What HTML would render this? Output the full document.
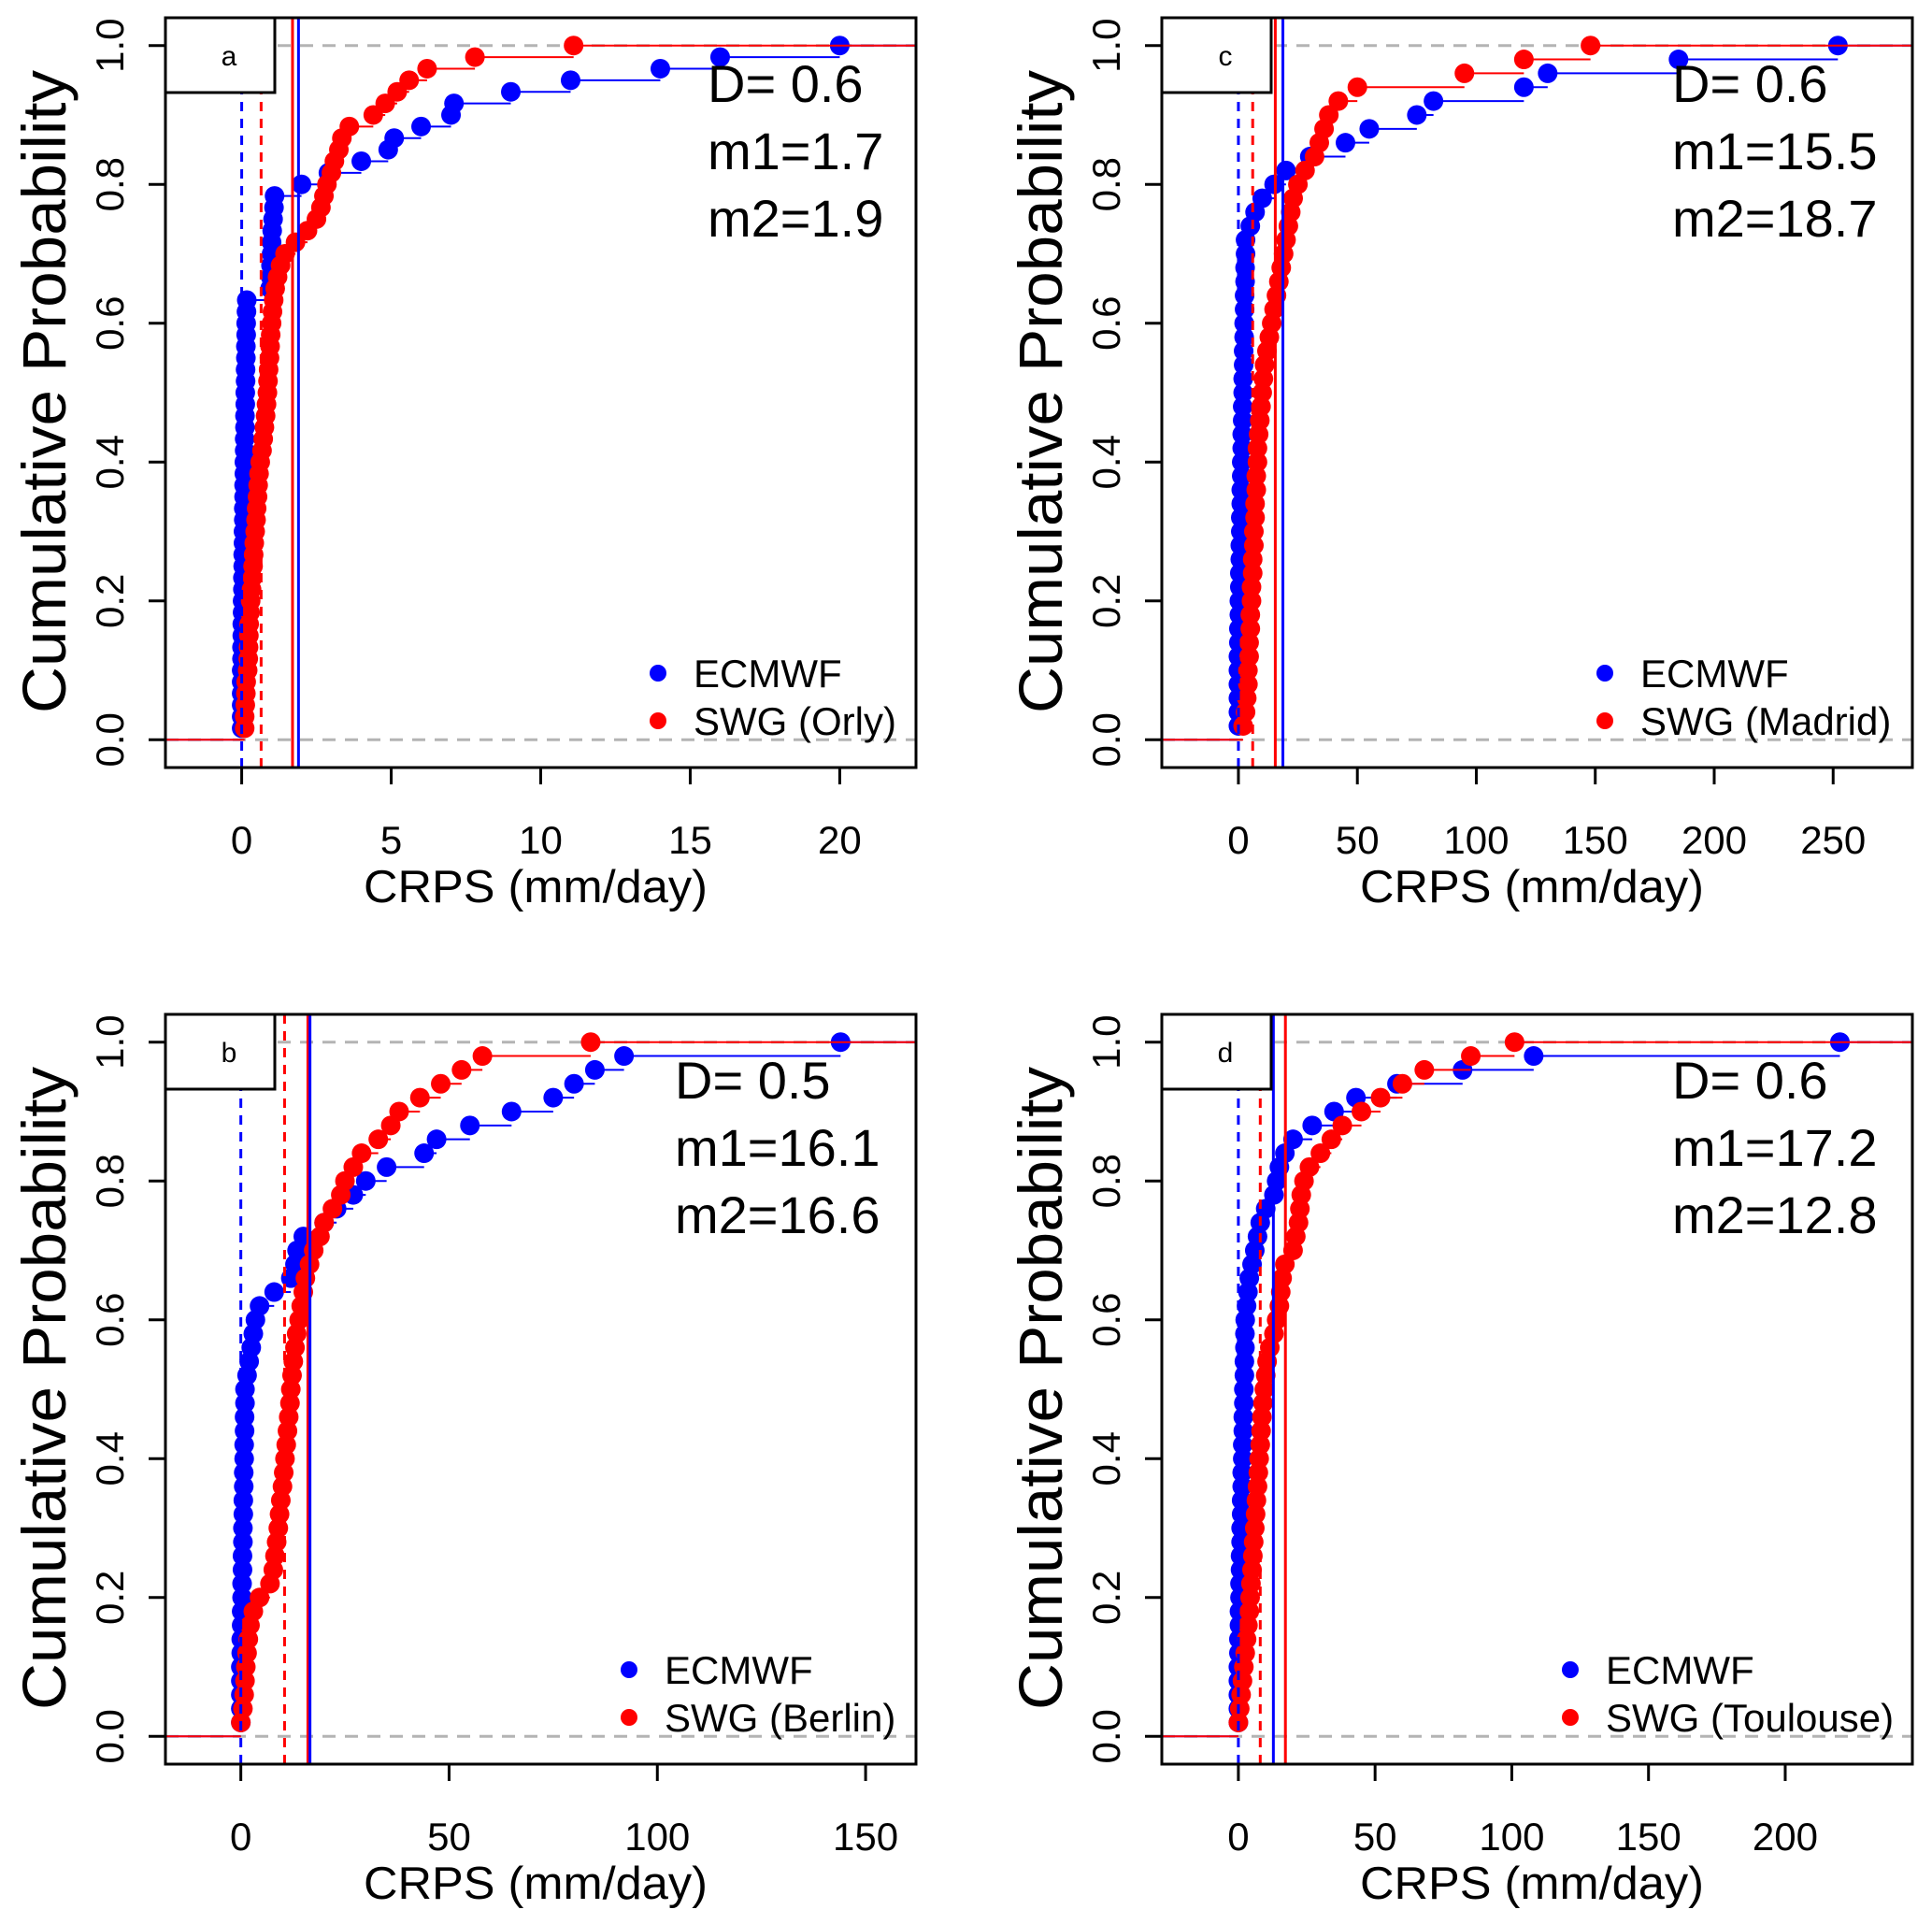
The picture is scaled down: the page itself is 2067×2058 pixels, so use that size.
<!DOCTYPE html>
<html><head><meta charset="utf-8">
<style>html,body{margin:0;padding:0;background:#fff}svg{display:block}</style>
</head><body>
<svg id="fig" width="2067" height="2058" viewBox="0 0 2067 2058" xmlns="http://www.w3.org/2000/svg" font-family="Liberation Sans, Arial, sans-serif"></svg>
<script>
// ---- data (sorted sample values; cumulative prob = rank/n) ----
const orlyEcmwf=[0,0,0,0,0,0,0.01,0.01,0.02,0.02,0.03,0.03,0.04,0.04,0.05,0.05,0.06,0.06,0.07,0.07,0.08,0.08,0.09,0.09,0.1,0.1,0.11,0.11,0.12,0.12,0.13,0.13,0.14,0.14,0.15,0.15,0.16,0.17,0.95,0.97,0.98,1.0,1.0,1.02,1.05,1.08,1.1,2.0,2.9,4.0,4.9,5.1,6.0,7.0,7.1,9.0,11.0,14.0,16.0,20.0];
const orlySwg=[0.1,0.1,0.12,0.14,0.15,0.2,0.22,0.23,0.24,0.25,0.28,0.3,0.33,0.36,0.38,0.4,0.42,0.45,0.48,0.5,0.53,0.55,0.58,0.62,0.68,0.72,0.76,0.8,0.83,0.86,0.88,0.9,0.93,0.95,0.97,1.0,1.03,1.07,1.12,1.2,1.3,1.45,1.8,2.2,2.5,2.65,2.75,2.85,3.0,3.1,3.25,3.35,3.6,4.4,4.8,5.2,5.6,6.2,7.8,11.1];
const madridEcmwf=[0,0,0,0,0,0,0.2,0.2,0.4,0.4,0.6,0.6,0.8,0.8,1,1,1.2,1.2,1.4,1.4,1.6,1.6,1.8,1.8,2,2,2.2,2.2,2.4,2.4,2.6,2.6,2.8,2.8,3,3,5,7,10,15,20,30,45,55,75,82,120,130,185,252];
const madridSwg=[2,3,3.5,4,4,4.5,4.5,5,5,5.5,5.5,6,6,6.5,6.5,7,7,7.5,7.5,8,8,8.5,9,9.5,10,10.5,11,12,13,14,15,16,17,18,19,20,21,22,23,25,28,32,34,36,38,42,50,95,120,148];
const berlinEcmwf=[0,0,0,0,0,0.1,0.1,0.2,0.2,0.3,0.3,0.4,0.4,0.5,0.5,0.6,0.6,0.7,0.7,0.8,0.8,0.9,0.9,1,1,1.5,2,2.5,3,3.5,4.5,8,12,13,13.5,15,20,23,27,30,35,44,47,55,65,75,80,85,92,144];
const berlinSwg=[0,0.5,0.8,1,1.2,1.5,1.8,2.2,3,4.5,7,7.8,8.2,8.6,9,9.3,9.6,10,10.3,10.6,10.9,11.2,11.5,11.8,12,12.3,12.6,13,13.4,14,14.5,15,15.5,16.5,17.5,19,20,22,24,25,27,29,33,36,38,43,48,53,58,84];
const toulouseEcmwf=[0,0,0,0,0,0.2,0.2,0.4,0.4,0.6,0.6,0.8,0.8,1,1,1.2,1.2,1.4,1.4,1.6,1.6,1.8,1.8,2,2,2.2,2.2,2.4,2.4,2.5,3,3.5,4,5,6,7,8,10,13,14,15,17,20,27,35,43,58,82,108,220];
const toulouseSwg=[0,0.5,1,1.5,2,2.5,3,3.5,4,4.3,4.6,5,5.3,5.6,6,6.3,6.6,7,7.3,7.6,8,8.3,8.6,9,9.5,10,10.5,11.5,13,14,15,15.5,16,17,20,21,22,22.5,23,24,26,30,34,38,45,52,60,68,85,101];
// summary lines: [ecmwf median, swg median, swg mean (m1), ecmwf mean (m2)]
const orlyStats=[0,0.65,1.7,1.9];
const madridStats=[0,6,15.5,18.7];
const berlinStats=[0,10.5,16.1,16.6];
const toulouseStats=[0,8,17.2,12.8];
const orlyTicks=[0,5,10,15,20];
const madridTicks=[0,50,100,150,200,250];
const berlinTicks=[0,50,100,150];
const toulouseTicks=[0,50,100,150,200];
const yTicks=[0,0.2,0.4,0.6,0.8,1.0];
const dStats=["0.6","0.6","0.5","0.6"];

const NS="http://www.w3.org/2000/svg";
const svg=document.getElementById('fig');
function mk(tag,attrs,parent){const e=document.createElementNS(NS,tag);for(const k in attrs)e.setAttribute(k,attrs[k]);(parent||svg).appendChild(e);return e;}

function panel(o){
  const L=o.L,T=o.T,W=803,H=802,R=L+W,B=T+H;
  const g=mk('g',{});
  
  
  const sx=v=>L+(v-o.xmin)/(o.xmax-o.xmin)*W;
  const sy=p=>B-(p+0.04)/1.08*H;
  [0,1].forEach(p=>{const l=mk('line',{x1:L,x2:R,y1:sy(p),y2:sy(p),stroke:'#b4b4b4','stroke-width':3,'stroke-dasharray':'14,10'},g);
    });
  const series=[[o.e,'#0000ff','ecmwf'],[o.s,'#ff0000','swg']];
  series.forEach(([d,c,nm])=>{
    const n=d.length;
    const sg=mk('g',{},g);
    
    let path='M'+L+' '+sy(0)+'H'+sx(d[0]);
    for(let i=0;i<n;i++){const p=(i+1)/n;const xe=i<n-1?sx(d[i+1]):R;path+='M'+sx(d[i])+' '+sy(p)+'H'+xe;}
    mk('path',{d:path,stroke:c,'stroke-width':2,fill:'none'},sg);
    for(let i=0;i<n;i++){const pt=mk('circle',{cx:sx(d[i]),cy:sy((i+1)/n),r:10.5,fill:c},sg);
      }
  });
  const st=o.stats;
  const vl=(v,c,dash,name)=>{const l=mk('line',{x1:sx(v),x2:sx(v),y1:T,y2:B,stroke:c,'stroke-width':3},g);if(dash)l.setAttribute('stroke-dasharray','10,8');
    };
  vl(st[0],'#0000ff',true,'ecmwf-median-line');
  vl(st[1],'#ff0000',true,'swg-median-line');
  vl(st[2],'#ff0000',false,'swg-mean-line');
  vl(st[3],'#0000ff',false,'ecmwf-mean-line');
  const lb=mk('rect',{x:L,y:T,width:117,height:80,fill:'#fff',stroke:'#000','stroke-width':3},g);
  
  const lt=mk('text',{x:L+68,y:T+51,'font-size':30,'text-anchor':'middle'},g);lt.textContent=o.letter;
  
  const fr=mk('rect',{x:L,y:T,width:W,height:H,fill:'none',stroke:'#000','stroke-width':3},g);
  
  yTicks.forEach(p=>{mk('line',{x1:L,x2:L-18,y1:sy(p),y2:sy(p),stroke:'#000','stroke-width':3},g);
    const t=mk('text',{x:0,y:0,'font-size':42,'text-anchor':'middle',transform:`translate(${L-60},${sy(p)}) rotate(-90) translate(0,15)`},g);
    t.textContent=p.toFixed(1);});
  o.ticks.forEach(v=>{mk('line',{x1:sx(v),x2:sx(v),y1:B,y2:B+18,stroke:'#000','stroke-width':3},g);
    const t=mk('text',{x:sx(v),y:B+92,'font-size':42,'text-anchor':'middle'},g);
    t.textContent=v;});
  const yt=mk('text',{x:0,y:0,'font-size':66,'text-anchor':'middle',textLength:688,lengthAdjust:'spacingAndGlyphs',transform:`translate(${L-131},${T+400}) rotate(-90) translate(0,24)`},g);
  yt.textContent='Cumulative Probability';
  const xt=mk('text',{x:L+396,y:B+144,'font-size':49,'text-anchor':'middle',textLength:368,lengthAdjust:'spacingAndGlyphs'},g);
  xt.textContent='CRPS (mm/day)';
  const lines=['D= '+o.D,'m1='+st[2],'m2='+st[3]];
  lines.forEach((s,i)=>{const t=mk('text',{x:L+o.textDx,y:T+90+i*72,'font-size':56},g);t.textContent=s;
    });
  const lg=mk('g',{},g);
  [['ECMWF','#0000ff'],['SWG ('+o.city+')','#ff0000']].forEach(([s,c],i)=>{
    const cy=T+701+i*51;
    mk('circle',{cx:R-o.legDx,cy:cy,r:9,fill:c},lg);
    const t=mk('text',{x:R-o.legDx+38,y:cy+15,'font-size':42},lg);t.textContent=s;
    });
}

panel({letter:'a',L:177,T:19,xmin:-2.55,xmax:22.55,e:orlyEcmwf,s:orlySwg,stats:orlyStats,ticks:orlyTicks,D:dStats[0],city:'Orly',textDx:580,legDx:276});
panel({letter:'c',L:1243,T:19,xmin:-32.2,xmax:283.3,e:madridEcmwf,s:madridSwg,stats:madridStats,ticks:madridTicks,D:dStats[1],city:'Madrid',textDx:546,legDx:329});
panel({letter:'b',L:177,T:1085,xmin:-18.1,xmax:162.1,e:berlinEcmwf,s:berlinSwg,stats:berlinStats,ticks:berlinTicks,D:dStats[2],city:'Berlin',textDx:545,legDx:307});
panel({letter:'d',L:1243,T:1085,xmin:-28,xmax:246.5,e:toulouseEcmwf,s:toulouseSwg,stats:toulouseStats,ticks:toulouseTicks,D:dStats[3],city:'Toulouse',textDx:546,legDx:366});
</script>
</body></html>
